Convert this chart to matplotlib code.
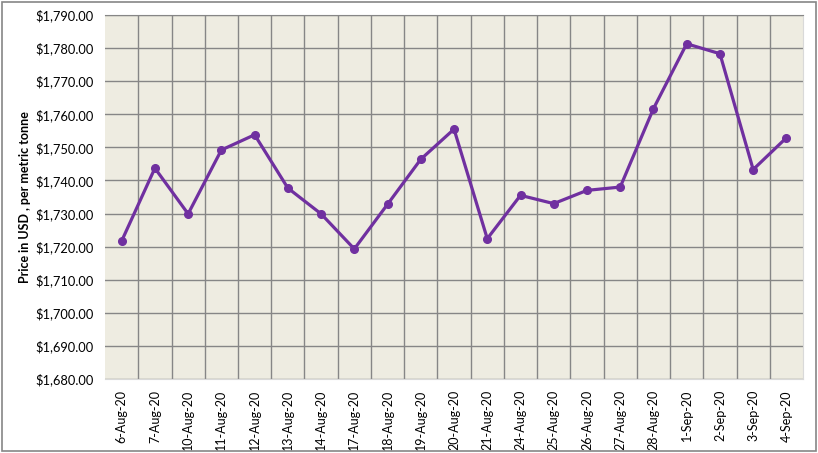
import matplotlib.pyplot as plt
from matplotlib.patches import Rectangle
from matplotlib.ticker import FuncFormatter, MultipleLocator

dates = ['6-Aug-20', '7-Aug-20', '10-Aug-20', '11-Aug-20', '12-Aug-20', '13-Aug-20',
         '14-Aug-20', '17-Aug-20', '18-Aug-20', '19-Aug-20', '20-Aug-20', '21-Aug-20',
         '24-Aug-20', '25-Aug-20', '26-Aug-20', '27-Aug-20', '28-Aug-20', '1-Sep-20',
         '2-Sep-20', '3-Sep-20', '4-Sep-20']
prices = [1721.7, 1743.7, 1729.9, 1749.2, 1753.8, 1737.7,
          1729.9, 1719.3, 1732.8, 1746.4, 1755.5, 1722.4,
          1735.5, 1733.0, 1737.0, 1738.0, 1761.7, 1781.3,
          1778.3, 1743.3, 1752.9]

plt.rcParams['font.family'] = ['Lato', 'DejaVu Sans']

fig = plt.figure(figsize=(8.18, 4.53), dpi=100)
fig.patches.append(Rectangle((0.003, 0.004), 0.994, 0.991, transform=fig.transFigure,
                             fill=False, edgecolor='#868686', linewidth=1.2))
ax = fig.add_axes([0.1284, 0.1634, 0.8533, 0.8035])
ax.set_facecolor('#EEECE1')

x = list(range(len(dates)))
ax.plot(x, prices, color='#7030A0', linewidth=2.3, marker='o', markersize=5.5, zorder=3)

ax.set_xlim(-0.5, len(dates) - 0.5)
ax.set_ylim(1680, 1790)
ax.yaxis.set_major_locator(MultipleLocator(10))
ax.yaxis.set_major_formatter(FuncFormatter(lambda v, p: '${:,.2f}'.format(v)))
ax.set_xticks(x)
ax.set_xticklabels(dates, rotation=90, fontsize=9)
ax.set_xticks([i + 0.5 for i in x[:-1]], minor=True)
ax.tick_params(axis='y', labelsize=9.3, length=0, pad=8)
ax.tick_params(axis='x', which='both', length=0, pad=8)

ax.grid(axis='y', which='major', color='#868686', linewidth=1)
ax.grid(axis='x', which='minor', color='#868686', linewidth=1)
ax.set_axisbelow(True)

for s in ['top', 'left']:
    ax.spines[s].set_visible(False)
ax.spines['right'].set_color('#D9D9D9')
ax.spines['bottom'].set_color('#D9D9D9')
ax.spines['top'].set_visible(True)
ax.spines['top'].set_color('#868686')

ax.set_ylabel('Price in USD , per metric tonne', fontsize=9, fontweight='bold', labelpad=3)

fig.savefig('out.png', dpi=100)
